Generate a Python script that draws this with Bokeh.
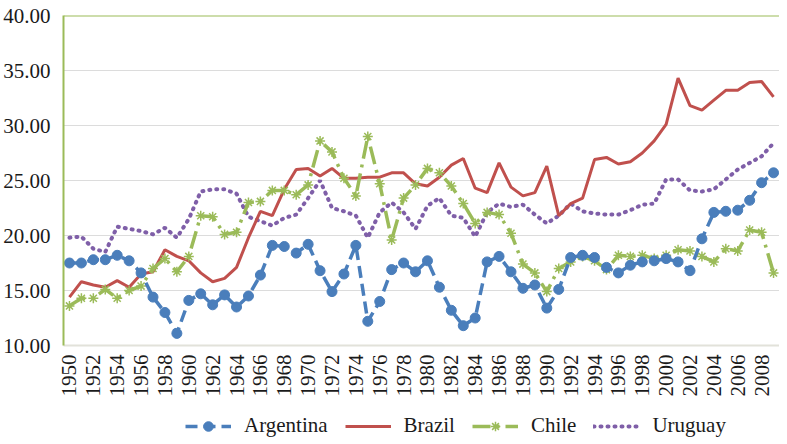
from bokeh.plotting import figure
from bokeh.layouts import column
from bokeh.models import (Range1d, FixedTicker, NumeralTickFormatter, Legend,
                          LegendItem, Span)
from bokeh.embed import file_html
from bokeh.resources import INLINE

years = list(range(1950, 2010))
x_tick_years = list(range(1950, 2009, 2))
y_ticks = [10, 15, 20, 25, 30, 35, 40]

argentina = [17.5, 17.5, 17.8, 17.8, 18.2, 17.7, 16.6, 14.4, 13.0, 11.1,
             14.1, 14.7, 13.7, 14.6, 13.5, 14.5, 16.4, 19.1, 19.0, 18.4,
             19.2, 16.8, 14.9, 16.5, 19.1, 12.2, 14.0, 16.9, 17.5, 16.7,
             17.7, 15.3, 13.2, 11.8, 12.5, 17.6, 18.1, 16.7, 15.2, 15.5,
             13.4, 15.1, 18.0, 18.2, 18.0, 17.1, 16.6, 17.3, 17.6, 17.7,
             17.9, 17.6, 16.8, 19.7, 22.1, 22.2, 22.3, 23.2, 24.8, 25.7]
brazil = [14.4, 15.8, 15.5, 15.3, 15.9, 15.3, 16.5, 16.7, 18.7, 18.1,
          17.7, 16.6, 15.8, 16.1, 17.1, 19.8, 22.2, 21.8, 24.2, 26.0,
          26.1, 25.4, 26.1, 25.2, 25.2, 25.3, 25.3, 25.7, 25.7, 24.7,
          24.5, 25.3, 26.4, 27.0, 24.3, 23.9, 26.6, 24.4, 23.6, 23.9,
          26.3, 21.8, 22.9, 23.4, 26.9, 27.1, 26.5, 26.7, 27.5, 28.6,
          30.1, 34.3, 31.8, 31.4, 32.3, 33.2, 33.2, 33.9, 34.0, 32.6]
chile = [13.6, 14.3, 14.3, 15.1, 14.3, 15.0, 15.4, 17.0, 17.9, 16.7,
         18.1, 21.8, 21.7, 20.1, 20.3, 23.0, 23.1, 24.1, 24.1, 23.7,
         24.6, 28.6, 27.6, 25.2, 23.6, 29.0, 24.7, 19.6, 23.4, 24.6,
         26.1, 25.7, 24.5, 22.9, 21.1, 22.1, 21.9, 20.2, 17.4, 16.6,
         14.9, 17.0, 17.6, 18.1, 17.7, 16.9, 18.2, 18.1, 18.2, 17.9,
         18.2, 18.7, 18.6, 18.1, 17.6, 18.8, 18.6, 20.5, 20.3, 16.6]
uruguay = [19.8, 19.9, 18.8, 18.5, 20.8, 20.6, 20.4, 20.1, 20.7, 19.8,
           21.5, 24.0, 24.2, 24.2, 23.8, 21.7, 21.3, 20.9, 21.6, 21.9,
           23.4, 25.0, 22.5, 22.2, 21.8, 19.8, 22.1, 23.0, 22.1, 20.6,
           22.7, 23.4, 21.8, 21.6, 19.9, 22.1, 22.9, 22.6, 22.8, 21.9,
           21.1, 21.8, 22.9, 22.2, 22.0, 21.9, 21.9, 22.3, 22.8, 22.9,
           25.1, 25.1, 24.1, 24.0, 24.2, 25.1, 26.0, 26.6, 27.2, 28.4]
series_names = ["Argentina", "Brazil", "Chile", "Uruguay"]

BLUE = "#4a7ebb"
RED = "#c0504d"
GREEN = "#9bbb59"
PURPLE = "#7f5fa8"
FONT = "'Liberation Serif'"

STYLES = {
    "Argentina": dict(line=dict(line_color=BLUE, line_width=3.5, line_dash="12 6"),
                      marker=dict(marker="circle", size=10, fill_color=BLUE,
                                  line_color=BLUE)),
    "Brazil": dict(line=dict(line_color=RED, line_width=3), marker=None),
    "Chile": dict(line=dict(line_color=GREEN, line_width=3.5, line_dash="18 6 3 6"),
                  marker=dict(marker="asterisk", size=10, line_color=GREEN,
                              line_width=1.5)),
    "Uruguay": dict(line=dict(line_color=PURPLE, line_width=4, line_dash="1 6",
                              line_cap="round"), marker=None),
}

# ---------------- main chart ----------------
p = figure(width=779, height=405, output_backend="svg", toolbar_location=None,
           x_range=Range1d(1949.5, 2009.5), y_range=Range1d(10, 40),
           min_border_left=55, min_border_right=0, min_border_top=15,
           min_border_bottom=60, background_fill_color="white",
           border_fill_color="white")
p.outline_line_color = None

p.yaxis.ticker = FixedTicker(ticks=y_ticks)
p.yaxis.formatter = NumeralTickFormatter(format="0.00")
p.yaxis.major_label_text_font = FONT
p.yaxis.major_label_text_font_size = "21px"
p.yaxis.major_label_text_color = "#1a1a1a"
p.yaxis.major_tick_line_color = None
p.yaxis.minor_tick_line_color = None
p.yaxis.axis_line_color = GREEN
p.yaxis.axis_line_width = 2
p.yaxis.major_label_standoff = 7

p.xaxis.ticker = FixedTicker(ticks=x_tick_years)
p.xaxis.major_label_overrides = {y: str(y) for y in x_tick_years}
p.xaxis.major_label_orientation = 3.14159265 / 2
p.xaxis.major_label_text_font = FONT
p.xaxis.major_label_text_font_size = "21px"
p.xaxis.major_label_text_color = "#1a1a1a"
p.xaxis.major_tick_line_color = None
p.xaxis.minor_tick_line_color = None
p.xaxis.axis_line_color = "#e2e2da"
p.xaxis.axis_line_width = 2
p.xaxis.major_label_standoff = 3

p.xgrid.grid_line_color = None
p.ygrid.grid_line_color = "#dcdcdc"
p.ygrid.grid_line_width = 1

p.add_layout(Span(location=40, dimension="width", line_color=GREEN, line_width=2))

data = {"Argentina": argentina, "Brazil": brazil, "Chile": chile,
        "Uruguay": uruguay}
for name in ["Uruguay", "Brazil", "Chile", "Argentina"]:
    st = STYLES[name]
    p.line(years, data[name], **st["line"])
    if st["marker"] is not None:
        p.scatter(years, data[name], **st["marker"])

# ---------------- legend strip ----------------
lg = figure(width=779, height=36, output_backend="svg", toolbar_location=None,
            x_range=Range1d(0, 1), y_range=Range1d(0, 1),
            x_axis_type=None, y_axis_type=None,
            min_border_left=0, min_border_right=0, min_border_top=0,
            min_border_bottom=0, background_fill_color="white",
            border_fill_color="white")
lg.outline_line_color = None
lg.grid.visible = False

items = []
for name in series_names:
    st = STYLES[name]
    # swatch renderers: their single point lies outside the strip's ranges
    rs = [lg.line([5, 6], [5, 5], **st["line"])]
    if st["marker"] is not None:
        rs.append(lg.scatter([5], [5], **st["marker"]))
    items.append(LegendItem(label=name, renderers=rs))

legend = Legend(items=items, orientation="horizontal", location=(122, 3))
legend.label_text_font = FONT
legend.label_text_font_size = "21px"
legend.label_text_color = "#1a1a1a"
legend.glyph_width = 46
legend.glyph_height = 24
legend.label_height = 24
legend.label_standoff = 13
legend.spacing = 17
legend.padding = 0
legend.margin = 0
legend.border_line_color = None
legend.background_fill_alpha = 0
lg.add_layout(legend)

layout = column(p, lg)
open("out.html", "w").write(file_html(layout, INLINE))
